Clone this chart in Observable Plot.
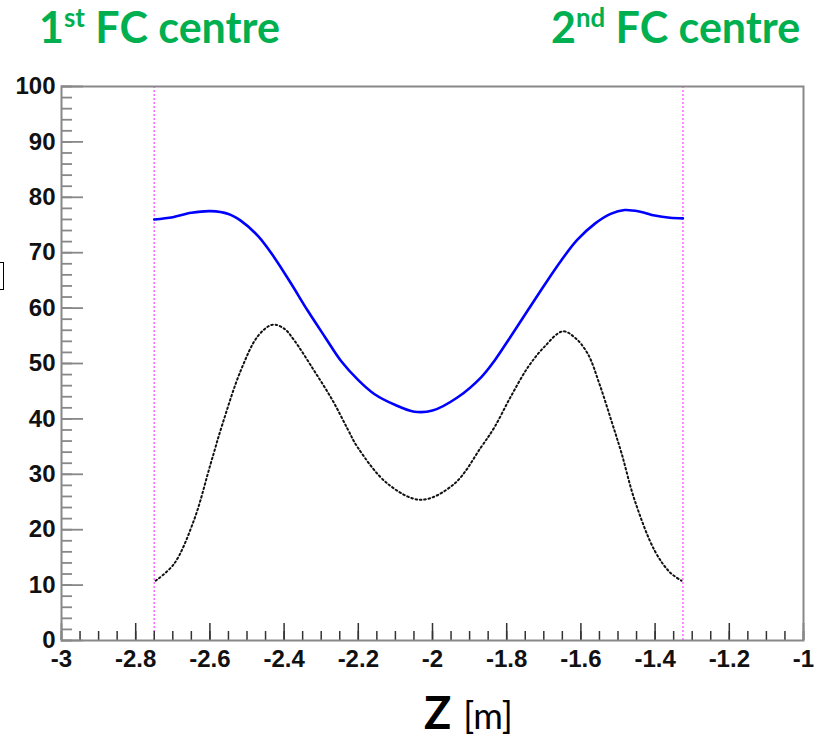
<!DOCTYPE html>
<html>
<head>
<meta charset="utf-8">
<script src="https://cdn.jsdelivr.net/npm/d3@7"></script>
<script src="https://cdn.jsdelivr.net/npm/@observablehq/plot@0.6"></script>
<style>
  html, body { margin: 0; padding: 0; background: #fff; }
  #wrap { position: relative; width: 821px; height: 738px; overflow: hidden; }
  #chart { position: absolute; left: 0; top: 0; }
  .title { position: absolute; font-family: Lato, "Open Sans", sans-serif; font-weight: bold; color: #00B050; font-size: 43px; line-height: 1; white-space: nowrap; }
  .title sup { font-size: 0.6em; vertical-align: 0.62em; line-height: 0; }
  #xlabel { position: absolute; left: 424px; top: 690px; height: 44px; font-size: 44px; font-family: Lato, "Open Sans", sans-serif; white-space: nowrap; line-height: 44px; color: #000; }
  #xlabel b { font-size: 45px; }
  #xlabel span { font-size: 36px; margin-left: 12px; }
  #cut { position: absolute; left: -2px; top: 262px; width: 4px; height: 26px; border: 1.5px solid #000; }
</style>
</head>
<body>
<div id="wrap">
  <div id="chart"></div>
  <div class="title" id="t1" style="left:39px; top:5px;">1<sup>st</sup> FC centre</div>
  <div class="title" id="t2" style="left:551px; top:5px;">2<sup>nd</sup> FC centre</div>
  <div id="xlabel"><b>Z</b><span>[m]</span></div>
  <div id="cut"></div>
</div>
<script>
// FC centre positions (m)
const fcCentres = [-2.75, -1.325];

// Blue solid curve
const blueZ = [-2.75, -2.70, -2.65, -2.598, -2.55, -2.517, -2.47, -2.427, -2.38, -2.337, -2.29, -2.247, -2.20, -2.157, -2.10, -2.049, -2.00, -1.932, -1.869, -1.833, -1.79, -1.743, -1.70, -1.653, -1.61, -1.563, -1.52, -1.482, -1.44, -1.401, -1.36, -1.325];
const blueV = [76.0, 76.4, 77.2, 77.5, 77.0, 75.8, 73.0, 69.2, 64.3, 59.6, 54.8, 50.5, 47.0, 44.5, 42.5, 41.3, 41.5, 43.9, 47.5, 50.5, 54.8, 59.6, 64.0, 68.6, 72.3, 75.2, 77.0, 77.7, 77.4, 76.7, 76.3, 76.2];

// Black dotted curve
const blackZ = [-2.746, -2.697, -2.643, -2.598, -2.566, -2.517, -2.47, -2.431, -2.40, -2.373, -2.319, -2.269, -2.229, -2.202, -2.121, -2.031, -1.941, -1.869, -1.833, -1.79, -1.743, -1.70, -1.649, -1.615, -1.581, -1.55, -1.518, -1.49, -1.455, -1.401, -1.36, -1.329];
const blackV = [10.8, 13.8, 21.7, 31.9, 39.1, 48.7, 55.0, 57.0, 56.3, 54.2, 48.7, 43.3, 38.2, 34.9, 28.3, 25.4, 28.3, 34.9, 38.5, 43.9, 49.3, 52.9, 55.8, 54.6, 51.7, 46.3, 39.7, 33.7, 25.3, 16.2, 12.3, 10.8];

// Axis ticks
const xMajor = [-3, -2.8, -2.6, -2.4, -2.2, -2, -1.8, -1.6, -1.4, -1.2, -1];
const xMinor = d3.range(-3, -0.999, 0.05).map(v => +v.toFixed(2));
const yMajor = [0, 10, 20, 30, 40, 50, 60, 70, 80, 90, 100];
const yMinor = d3.range(0, 100.01, 2);

const blue = blueZ.map((z, i) => ({z, v: blueV[i]}));
const black = blackZ.map((z, i) => ({z, v: blackV[i]}));

const fmt = d => String(+(+d).toFixed(1));

const plot = Plot.plot({
  width: 821,
  height: 738,
  marginLeft: 61,
  marginRight: 18,
  marginTop: 86,
  marginBottom: 98,
  style: { fontFamily: "'Liberation Sans', Arial, sans-serif", background: "transparent", overflow: "visible" },
  x: { domain: [-3, -1] },
  y: { domain: [0, 100] },
  marks: [
    Plot.ruleX(fcCentres, { y1: 0, y2: 100, stroke: "#ff66ff", strokeWidth: 1.5, strokeDasharray: "2,2" }),
    Plot.line(blue, { x: "z", y: "v", curve: "catmull-rom", stroke: "#0000ff", strokeWidth: 2.6 }),
    Plot.line(black, { x: "z", y: "v", curve: "catmull-rom", stroke: "#111", strokeWidth: 2, strokeDasharray: "1.6,2.8" }),
    // minor ticks (inward)
    Plot.axisX(xMinor, { anchor: "bottom", tickSize: -9, fill: "none", stroke: "#333", strokeWidth: 1.5, label: null }),
    Plot.axisX(xMajor, { anchor: "bottom", tickSize: -17, fill: "none", stroke: "#333", strokeWidth: 1.5, label: null }),
    Plot.axisY(yMinor, { anchor: "left", tickSize: -11, fill: "none", stroke: "#888", strokeWidth: 1.8, label: null }),
    Plot.axisY(yMajor, { anchor: "left", tickSize: -22, fill: "none", stroke: "#888", strokeWidth: 1.8, label: null }),
    // labels
    Plot.axisX(xMajor, { anchor: "bottom", tickSize: 0, tickPadding: 9, tickFormat: fmt, fontSize: 24, fontWeight: "bold", fill: "#111", label: null }),
    Plot.axisY(yMajor, { anchor: "left", tickSize: 0, tickPadding: 6, tickFormat: fmt, fontSize: 24, fontWeight: "bold", fill: "#111", label: null }),
    Plot.frame({ stroke: "#888", strokeWidth: 2 })
  ]
});
document.getElementById("chart").appendChild(plot);
</script>
</body>
</html>
